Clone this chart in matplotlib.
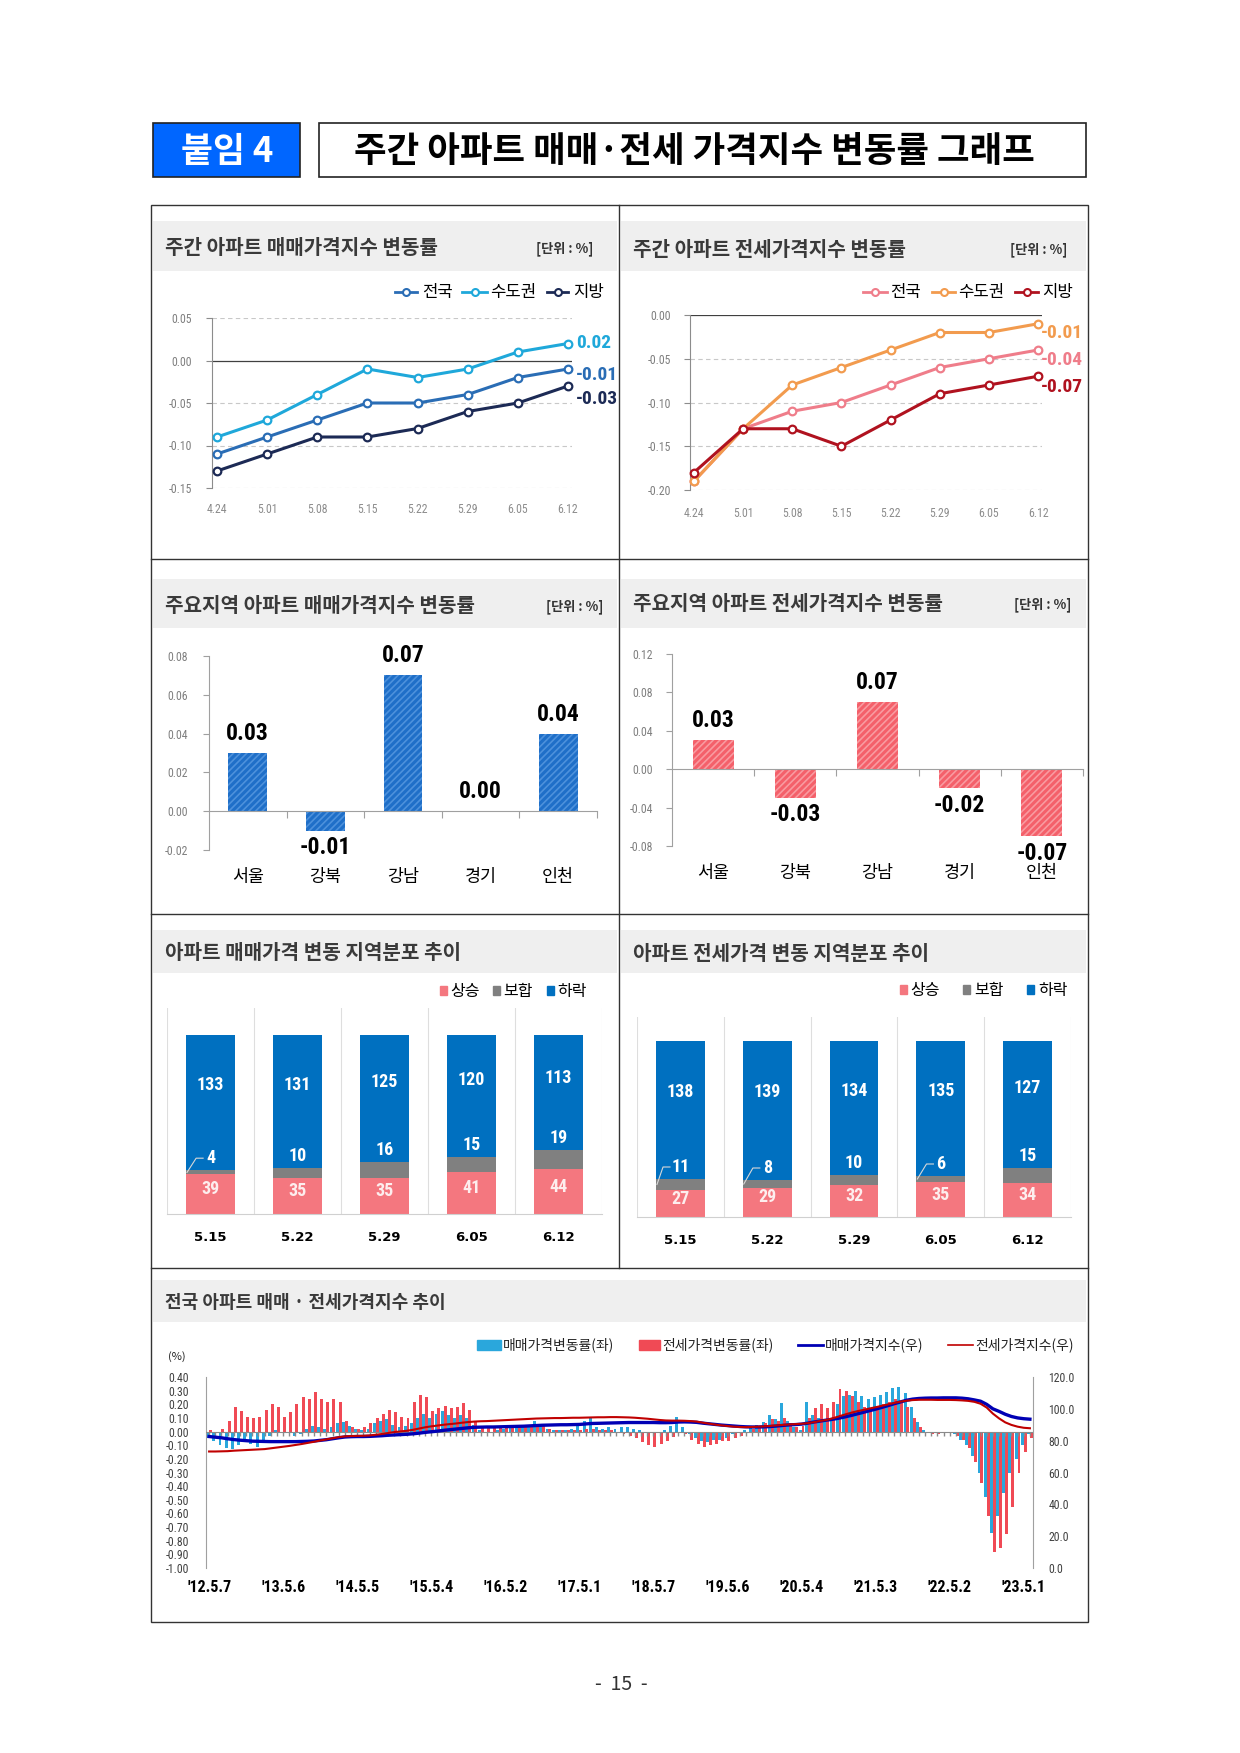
import matplotlib
matplotlib.use('Agg')
import matplotlib.pyplot as plt
from matplotlib import font_manager
from matplotlib.patches import Rectangle

# ---------------- data ----------------
weeks = ['4.24', '5.01', '5.08', '5.15', '5.22', '5.29', '6.05', '6.12']
series_names = ['전국', '수도권', '지방']
sale_nation = [-0.11, -0.09, -0.07, -0.05, -0.05, -0.04, -0.02, -0.01]
sale_capital = [-0.09, -0.07, -0.04, -0.01, -0.02, -0.01, 0.01, 0.02]
sale_local = [-0.13, -0.11, -0.09, -0.09, -0.08, -0.06, -0.05, -0.03]
jeonse_nation = [-0.19, -0.13, -0.11, -0.10, -0.08, -0.06, -0.05, -0.04]
jeonse_capital = [-0.19, -0.13, -0.08, -0.06, -0.04, -0.02, -0.02, -0.01]
jeonse_local = [-0.18, -0.13, -0.13, -0.15, -0.12, -0.09, -0.08, -0.07]

regions = ['서울', '강북', '강남', '경기', '인천']
sale_region = [0.03, -0.01, 0.07, 0.00, 0.04]
jeonse_region = [0.03, -0.03, 0.07, -0.02, -0.07]

dist_weeks = ['5.15', '5.22', '5.29', '6.05', '6.12']
dist_names = ['상승', '보합', '하락']
sale_up = [39, 35, 35, 41, 44]
sale_flat = [4, 10, 16, 15, 19]
sale_down = [133, 131, 125, 120, 113]
jeonse_up = [27, 29, 32, 35, 34]
jeonse_flat = [11, 8, 10, 6, 15]
jeonse_down = [138, 139, 134, 135, 127]

# monthly readings, 2012.5 ~ 2023.6
year_labels = ["'12.5.7", "'13.5.6", "'14.5.5", "'15.5.4", "'16.5.2", "'17.5.1",
               "'18.5.7", "'19.5.6", "'20.5.4", "'21.5.3", "'22.5.2", "'23.5.1"]
sale_chg = [
    -0.05, -0.07, -0.10, -0.12, -0.13, -0.10, -0.07, -0.09,
    -0.11, -0.08, -0.03, 0.01, -0.01, -0.01, -0.03, -0.02, 0.02, 0.04, 0.03, 0.02,
    0.03, 0.06, 0.07, 0.04, 0.02, 0.01, 0.02, 0.06, 0.08, 0.09, 0.05, 0.03,
    0.04, 0.06, 0.10, 0.13, 0.10, 0.13, 0.15, 0.12, 0.10, 0.12, 0.10, 0.05,
    0.01, 0.00, 0.00, 0.01, 0.02, 0.03, 0.03, 0.04, 0.05, 0.08, 0.05, 0.02,
    0.01, 0.01, 0.01, 0.02, 0.04, 0.08, 0.10, 0.03, 0.02, 0.03, 0.02, 0.03,
    0.03, 0.02, 0.01, 0.00, 0.00, -0.01, 0.01, 0.04, 0.11, 0.03, -0.02, -0.05,
    -0.07, -0.08, -0.06, -0.06, -0.05, -0.02, 0.00, 0.01, 0.03, 0.05, 0.07, 0.12,
    0.09, 0.21, 0.08, 0.03, 0.01, 0.22, 0.12, 0.10, 0.08, 0.08, 0.20, 0.26,
    0.27, 0.30, 0.26, 0.24, 0.25, 0.27, 0.29, 0.32, 0.33, 0.28, 0.18, 0.07,
    0.01, -0.01, -0.01, 0.00, -0.01, -0.02, -0.06, -0.10, -0.18, -0.30, -0.48, -0.74,
    -0.62, -0.45, -0.30, -0.20, -0.10, -0.02,
]
jeonse_chg = [
    0.01, 0.00, 0.02, 0.08, 0.18, 0.15, 0.11, 0.10,
    0.11, 0.16, 0.20, 0.18, 0.11, 0.14, 0.20, 0.25, 0.24, 0.29, 0.24, 0.22,
    0.24, 0.22, 0.08, 0.03, 0.02, 0.03, 0.06, 0.10, 0.13, 0.16, 0.14, 0.11,
    0.10, 0.22, 0.27, 0.25, 0.15, 0.17, 0.19, 0.17, 0.18, 0.21, 0.16, 0.08,
    0.04, 0.03, 0.04, 0.04, 0.05, 0.04, 0.03, 0.03, 0.04, 0.04, 0.04, 0.02,
    0.01, 0.01, 0.01, 0.01, 0.01, 0.02, 0.02, 0.01, 0.01, 0.01, -0.01, -0.02,
    -0.03, -0.05, -0.08, -0.10, -0.11, -0.09, -0.07, -0.04, 0.00, -0.02, -0.06, -0.09,
    -0.11, -0.10, -0.09, -0.07, -0.07, -0.05, -0.03, 0.00, 0.02, 0.03, 0.06, 0.09,
    0.08, 0.10, 0.06, 0.03, 0.04, 0.10, 0.17, 0.20, 0.17, 0.22, 0.31, 0.30,
    0.26, 0.22, 0.18, 0.15, 0.16, 0.20, 0.22, 0.24, 0.22, 0.18, 0.10, 0.03,
    -0.01, -0.02, -0.02, -0.01, -0.01, -0.03, -0.06, -0.12, -0.22, -0.38, -0.62, -0.88,
    -0.85, -0.75, -0.55, -0.30, -0.15, -0.05,
]
sale_index = [
    82.6, 82.2, 81.8, 81.2, 80.7, 80.3, 80.0, 79.7,
    79.6, 79.5, 79.4, 79.4, 79.4, 79.4, 79.4, 79.5, 79.6, 79.8, 80.2, 80.6,
    81.2, 81.8, 82.3, 82.5, 82.6, 82.6, 82.7, 82.9, 83.1, 83.4, 83.6, 83.8,
    84.0, 84.3, 84.7, 85.2, 85.6, 86.0, 86.5, 86.9, 87.3, 87.7, 88.1, 88.4,
    88.5, 88.6, 88.6, 88.7, 88.8, 88.9, 89.0, 89.1, 89.3, 89.5, 89.7, 89.8,
    89.9, 90.0, 90.0, 90.1, 90.2, 90.5, 90.8, 90.9, 91.0, 91.1, 91.2, 91.3,
    91.4, 91.4, 91.4, 91.4, 91.4, 91.3, 91.3, 91.4, 91.7, 91.8, 91.7, 91.5,
    91.0, 90.6, 90.2, 89.8, 89.5, 89.2, 88.9, 88.7, 88.6, 88.6, 88.7, 88.9,
    89.2, 89.6, 89.9, 90.1, 90.4, 91.0, 91.7, 92.3, 92.9, 93.4, 94.1, 94.9,
    95.8, 96.8, 97.8, 98.8, 99.8, 100.9, 102.0, 103.2, 104.3, 105.4, 106.1, 106.5,
    106.7, 106.8, 106.8, 106.9, 106.9, 106.9, 106.7, 106.3, 105.6, 104.8, 102.8, 100.0,
    98.4, 96.6, 95.2, 94.3, 93.8, 93.5,
]
jeonse_index = [
    73.2, 73.2, 73.3, 73.4, 73.7, 73.9, 74.1, 74.3,
    74.5, 74.7, 75.2, 75.7, 76.2, 76.7, 77.3, 77.9, 78.6, 79.3, 80.1, 80.8,
    81.5, 82.2, 82.7, 82.9, 83.0, 83.1, 83.3, 83.7, 84.2, 84.8, 85.4, 85.8,
    86.2, 86.8, 87.6, 88.4, 89.0, 89.5, 90.0, 90.4, 90.8, 91.3, 91.7, 92.0,
    92.2, 92.3, 92.5, 92.7, 92.9, 93.1, 93.3, 93.5, 93.7, 93.9, 94.0, 94.1,
    94.2, 94.2, 94.3, 94.4, 94.4, 94.5, 94.6, 94.7, 94.7, 94.8, 94.8, 94.7,
    94.6, 94.4, 94.1, 93.8, 93.4, 93.0, 92.7, 92.6, 92.6, 92.5, 92.3, 92.0,
    91.3, 90.7, 90.1, 89.6, 89.2, 88.8, 88.6, 88.5, 88.6, 88.8, 89.0, 89.3,
    89.6, 89.9, 90.2, 90.4, 90.6, 91.0, 91.6, 92.4, 93.0, 94.0, 95.2, 96.4,
    97.5, 98.5, 99.3, 100.2, 101.0, 101.9, 102.8, 103.7, 104.5, 105.1, 105.5, 105.7,
    105.7, 105.7, 105.6, 105.6, 105.6, 105.5, 105.3, 105.0, 104.4, 103.2, 100.8, 97.0,
    94.0, 91.5, 89.9, 88.8, 88.1, 87.8,
]

# ---------------- fonts ----------------
plt.rcParams['font.family'] = ['Noto Sans CJK KR', 'DejaVu Sans']
plt.rcParams['axes.unicode_minus'] = False
plt.rcParams['hatch.linewidth'] = 1.2
names = {f.name for f in font_manager.fontManager.ttflist}
NUM = dict(family='DejaVu Sans', fontstretch='condensed')
for cand in ['Liberation Sans Narrow', 'Nimbus Sans Narrow', 'Roboto Condensed',
             'Open Sans Condensed', 'Noto Sans Condensed', 'Arial Narrow']:
    if cand in names:
        NUM = dict(family=cand)
        break
narrow = NUM['family'] != 'DejaVu Sans'

W, H = 1240, 1753
fig = plt.figure(figsize=(W / 100, H / 100), dpi=100)


def px_axes(x0, y0, x1, y1):
    ax = fig.add_axes([x0 / W, 1 - y1 / H, (x1 - x0) / W, (y1 - y0) / H])
    ax.set_facecolor('none')
    return ax


# page background, frame, title bands
bg = px_axes(0, 0, W, H)
bg.set_xlim(0, W)
bg.set_ylim(H, 0)
bg.axis('off')

bg.add_patch(Rectangle((153, 123), 147, 54, facecolor='#0066ff', edgecolor='#222222', lw=1.2))
bg.text(227, 151, '붙임 4', color='white', fontsize=25, fontweight='black', ha='center', va='center')
bg.add_patch(Rectangle((319, 123), 767, 54, facecolor='white', edgecolor='#222222', lw=1.2))
bg.text(694, 151, '주간 아파트 매매·전세 가격지수 변동률 그래프', fontsize=25.5, fontweight='black',
        ha='center', va='center')

bg.add_patch(Rectangle((151, 205), 937, 1417, fill=False, edgecolor='#333333', lw=1))
bg.plot([619, 619], [205, 1268], color='#333333', lw=1)
for yy in (559, 914, 1268):
    bg.plot([151, 1088], [yy, yy], color='#333333', lw=1)

bands = [(153, 221, 617, 271), (621, 221, 1086, 271), (153, 579, 617, 628), (621, 579, 1086, 628),
         (153, 930, 617, 973), (621, 930, 1086, 973), (153, 1280, 1086, 1322)]
for x0, y0, x1, y1 in bands:
    bg.add_patch(Rectangle((x0, y0), x1 - x0, y1 - y0, facecolor='#efefef', edgecolor='none'))

titles = [(165, 247, '주간 아파트 매매가격지수 변동률'), (633, 249, '주간 아파트 전세가격지수 변동률'),
          (165, 605, '주요지역 아파트 매매가격지수 변동률'), (633, 603, '주요지역 아파트 전세가격지수 변동률'),
          (165, 952, '아파트 매매가격 변동 지역분포 추이'), (633, 953, '아파트 전세가격 변동 지역분포 추이')]
for tx, ty, t in titles:
    bg.text(tx, ty, t, fontsize=14.5, fontweight='bold', color='#3a3a3a', va='center')
bg.text(165, 1302, '전국 아파트 매매 · 전세가격지수 추이', fontsize=13, fontweight='bold', color='#3a3a3a',
        va='center')
for ux, uy in [(593, 249), (1067, 250), (603, 607), (1071, 605)]:
    bg.text(ux, uy, '[단위 : %]', fontsize=9.5, fontweight='bold', color='#333333', ha='right', va='center')

bg.text(621, 1684, '-  15  -', fontsize=14, color='#333333', ha='center', va='center')

# ---------------- weekly line charts ----------------
sale_colors = ['#2a6db5', '#1fa8da', '#1c2a55']
jeonse_colors = ['#ef7d8a', '#f29b4e', '#b0121f']

legend_spots = [(395, 417, 422), (462, 487, 490), (547, 568, 573)]
for (x0, x1, tx), name, c in zip(legend_spots, series_names, sale_colors):
    bg.plot([x0, x1], [292, 292], color=c, lw=2)
    bg.plot([(x0 + x1) / 2], [292], 'o', ms=5, mfc='white', mec=c, mew=1.5)
    bg.text(tx, 292, name, fontsize=12, va='center')
legend_spots = [(863, 887, 890), (932, 955, 958), (1015, 1038, 1042)]
for (x0, x1, tx), name, c in zip(legend_spots, series_names, jeonse_colors):
    bg.plot([x0, x1], [292, 292], color=c, lw=2)
    bg.plot([(x0 + x1) / 2], [292], 'o', ms=5, mfc='white', mec=c, mew=1.5)
    bg.text(tx, 292, name, fontsize=12, va='center')

end_size = 14 if narrow else 12


def line_panel(ax, series, colors, ylim, yticks, xlim, label_dx, label_dy, ypad, xpad):
    x = list(range(len(weeks)))
    for t in yticks:
        if t == 0:
            ax.axhline(0, color='#404040', lw=0.9, zorder=1)
        else:
            ax.axhline(t, color='#c8c8c8', lw=0.8, ls=(0, (4, 3)), zorder=1)
    for vals, c in zip(series, colors):
        ax.plot(x, vals, color=c, lw=2.2, marker='o', ms=5.5, mfc='white', mec=c, mew=1.6,
                zorder=3, clip_on=False)
    for vals, c, dy in zip(series, colors, label_dy):
        ax.annotate(f'{vals[-1]:.2f}', (x[-1], vals[-1]), xytext=(label_dx, dy),
                    textcoords='offset points', ha='left', va='center', color=c,
                    fontsize=end_size, fontweight='bold', **NUM)
    ax.set_xlim(*xlim)
    ax.set_ylim(*ylim)
    ax.set_yticks(yticks, [f'{t:.2f}' for t in yticks], fontsize=8.5, color='#7f7f7f', **NUM)
    ax.set_xticks(x, weeks, fontsize=8.5, color='#8c8c8c', **NUM)
    ax.tick_params(axis='x', length=0, pad=xpad)
    ax.tick_params(axis='y', length=4, color='#8c8c8c', pad=ypad)
    for s in ('top', 'right', 'bottom'):
        ax.spines[s].set_visible(False)
    ax.spines['left'].set_color('#8c8c8c')


ax1 = px_axes(212, 318, 572, 488)
line_panel(ax1, [sale_nation, sale_capital, sale_local], sale_colors, (-0.15, 0.05),
           [0.05, 0.0, -0.05, -0.10, -0.15], (-0.1, 7.08), 6, [-4, 0, -9], 10.5, 11)

ax2 = px_axes(690, 315, 1042, 490)
line_panel(ax2, [jeonse_nation, jeonse_capital, jeonse_local], jeonse_colors, (-0.20, 0.0),
           [0.0, -0.05, -0.10, -0.15, -0.20], (-0.08, 7.08), 2, [-7, -7, -8], 9.5, 12)

# ---------------- regional bar charts ----------------
value_size = 17 if narrow else 15


def bar_panel(ax, vals, color, hatch_color, ylim, yticks, ypad, cat_y):
    x = list(range(len(regions)))
    ax.bar(x, vals, width=0.5, color=color, edgecolor=hatch_color, hatch='/////', lw=0, zorder=2)
    for i, v in zip(x, vals):
        ax.annotate(f'{v:.2f}', (i, v), xytext=(0, 14 if v >= 0 else -12), textcoords='offset points',
                    ha='center', va='center', fontsize=value_size, fontweight='bold', **NUM)
        ax.text(i, cat_y, regions[i], transform=ax.get_xaxis_transform(), ha='center', va='center',
                fontsize=12.5, fontweight='medium')
    ax.set_xlim(-0.5, len(x) - 0.5)
    ax.set_ylim(*ylim)
    ax.set_yticks(yticks, [f'{t:.2f}' for t in yticks], fontsize=8.5, color='#7f7f7f', **NUM)
    ax.set_xticks([i + 0.5 for i in x], [])
    ax.tick_params(axis='x', length=5, color='#a0a0a0', direction='out')
    ax.tick_params(axis='y', length=4, color='#a0a0a0', pad=ypad)
    ax.spines['bottom'].set_position(('data', 0))
    ax.spines['bottom'].set_color('#a0a0a0')
    ax.spines['left'].set_color('#a0a0a0')
    for s in ('top', 'right'):
        ax.spines[s].set_visible(False)


ax3 = px_axes(209, 656, 597, 850)
bar_panel(ax3, sale_region, '#1f6fc8', '#4d91dc', (-0.02, 0.08),
          [0.08, 0.06, 0.04, 0.02, 0.0, -0.02], 11, -0.139)

ax4 = px_axes(672, 654, 1083, 846)
bar_panel(ax4, jeonse_region, '#f4606a', '#f99aa0', (-0.08, 0.12),
          [0.12, 0.08, 0.04, 0.0, -0.04, -0.08], 9.5, -0.14)

# ---------------- distribution stacked bars ----------------
dist_colors = ['#f4777f', '#808080', '#0070c0']
for sx, tx, name, c in zip([440, 493, 547], [450, 503, 557], dist_names, dist_colors):
    bg.add_patch(Rectangle((sx, 986), 7, 9, color=c))
    bg.text(tx, 991, name, fontsize=11.5, va='center')
for sx, tx, name, c in zip([900, 963, 1027], [910, 974, 1038], dist_names, dist_colors):
    bg.add_patch(Rectangle((sx, 985), 7, 9, color=c))
    bg.text(tx, 990, name, fontsize=11.5, va='center')


def dist_panel(ax, up, flat, down, leader, top):
    x = list(range(len(dist_weeks)))
    mid = [u + f for u, f in zip(up, flat)]
    ax.bar(x, up, width=0.56, color=dist_colors[0], zorder=2)
    ax.bar(x, flat, bottom=up, width=0.56, color=dist_colors[1], zorder=2)
    ax.bar(x, down, bottom=mid, width=0.56, color=dist_colors[2], zorder=2)
    lab = dict(ha='center', va='center', fontsize=13 if narrow else 12, fontweight='bold', zorder=4, **NUM)
    for i in x:
        ax.text(i, up[i] / 2 + 5, str(up[i]), color='#fdeeee', **lab)
        ax.text(i, mid[i] + 12, str(flat[i]), color='white', **lab)
        ax.text(i, mid[i] + 0.63 * down[i], str(down[i]), color='white', **lab)
        if leader[i]:
            end = i - (0.05 + 0.035 * len(str(flat[i])))
            ax.plot([i - 0.27, end - 0.08, end], [up[i] + flat[i] / 2, mid[i] + 12, mid[i] + 12],
                    color='#d8d8d8', lw=0.8, zorder=4)
    ax.set_xlim(-0.5, len(x) - 0.5)
    ax.set_ylim(0, top)
    ax.set_xticks(x, dist_weeks, fontsize=9.5, fontweight='bold', family='DejaVu Sans')
    ax.set_xticks([i - 0.5 for i in range(len(x) + 1)], minor=True)
    ax.grid(which='minor', axis='x', color='#dedede', lw=0.8)
    ax.tick_params(which='both', length=0)
    ax.tick_params(axis='x', which='major', pad=12)
    ax.set_yticks([])
    for s in ('top', 'right', 'left'):
        ax.spines[s].set_visible(False)
    ax.spines['bottom'].set_color('#d0d0d0')


ax5 = px_axes(167, 1008, 602, 1214)
dist_panel(ax5, sale_up, sale_flat, sale_down, [True, False, False, False, False], 203)

ax6 = px_axes(637, 1017, 1071, 1217)
dist_panel(ax6, jeonse_up, jeonse_flat, jeonse_down, [True, True, False, True, False], 200)

# ---------------- long-term trend ----------------
bg.add_patch(Rectangle((477, 1340), 24, 10, color='#2aa7dc'))
bg.text(503, 1345, '매매가격변동률(좌)', fontsize=10, va='center', color='#222222')
bg.add_patch(Rectangle((639, 1340), 21, 10, color='#f04a55'))
bg.text(662, 1345, '전세가격변동률(좌)', fontsize=10, va='center', color='#222222')
bg.plot([798, 823], [1345, 1345], color='#0000b4', lw=2)
bg.text(825, 1345, '매매가격지수(우)', fontsize=10, va='center', color='#222222')
bg.plot([948, 973], [1345, 1345], color='#c00000', lw=1.2)
bg.text(975, 1345, '전세가격지수(우)', fontsize=10, va='center', color='#222222')
bg.text(177, 1357, '(%)', fontsize=8, va='center', ha='center', color='#222222')

ax7 = px_axes(206, 1377, 1033, 1568)
idx = list(range(len(sale_chg)))
ax7.bar([i - 0.23 for i in idx], sale_chg, width=0.48, color='#2aa7dc', zorder=2)
ax7.bar([i + 0.23 for i in idx], jeonse_chg, width=0.48, color='#f04a55', zorder=2)
ax7.vlines(idx, -0.03, 0, color='#8a8a8a', lw=1.0, zorder=3)
ax7.axhline(0, color='#8a8a8a', lw=0.8, zorder=3)
ax7.set_xlim(-0.5, len(idx) - 0.5)
ax7.set_ylim(-1.0, 0.4)
left_ticks = [round(0.4 - 0.1 * k, 2) for k in range(15)]
ax7.set_yticks(left_ticks, [f'{t:.2f}'.replace('-0.00', '0.00') for t in left_ticks],
               fontsize=8.5, color='#404040', **NUM)
ax7.set_xticks(list(range(0, len(idx), 12)), year_labels, fontsize=11.5, fontweight='bold', **NUM)
ax7.tick_params(axis='x', length=0, pad=9)
ax7.tick_params(axis='y', length=0, pad=12)
for s in ('top', 'right', 'bottom'):
    ax7.spines[s].set_visible(False)
ax7.spines['left'].set_color('#a0a0a0')

tw = ax7.twinx()
tw.plot(idx, sale_index, color='#0000b4', lw=2.4, zorder=3)
tw.plot(idx, jeonse_index, color='#c00000', lw=1.5, zorder=3)
tw.set_ylim(0, 120)
right_ticks = [120, 100, 80, 60, 40, 20, 0]
tw.set_yticks(right_ticks, [f'{t:.1f}' for t in right_ticks], fontsize=8.5, color='#404040', **NUM)
tw.tick_params(axis='y', length=0, pad=11)
for s in ('top', 'left', 'bottom'):
    tw.spines[s].set_visible(False)
tw.spines['right'].set_color('#a0a0a0')

fig.savefig('out.png', dpi=100)
